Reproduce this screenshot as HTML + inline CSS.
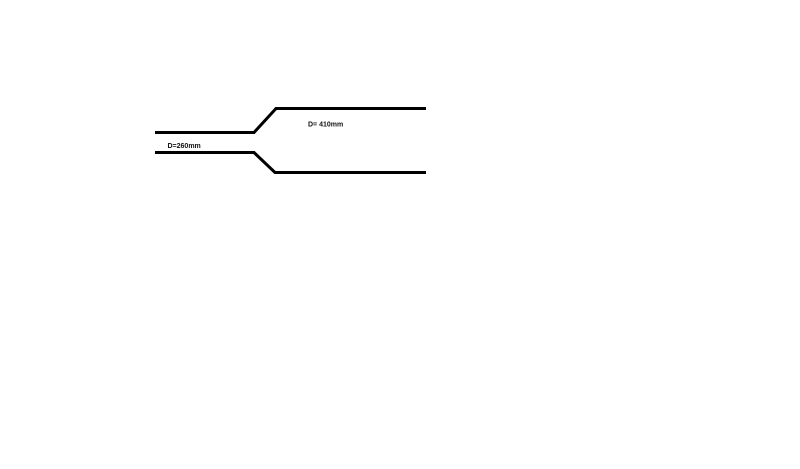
<!DOCTYPE html>
<html>
<head>
<meta charset="utf-8">
<style>
html,body{margin:0;padding:0;background:#fff;width:800px;height:469px;overflow:hidden}
svg{display:block}
text{font-family:"Liberation Sans",sans-serif;font-size:7px;font-weight:bold;fill:#111}
</style>
</head>
<body>
<svg width="800" height="469" viewBox="0 0 800 469" xmlns="http://www.w3.org/2000/svg">
<rect width="800" height="469" fill="#fff"/>
<polyline points="155,132.5 254,132.5 276,108.5 426,108.5" fill="none" stroke="#000" stroke-width="3"/>
<polyline points="155,152.5 254,152.5 275,172.5 426,172.5" fill="none" stroke="#000" stroke-width="3"/>
<text x="167.5" y="148">D=260mm</text>
<text x="308" y="126.500">D= 410mm</text>
</svg>
</body>
</html>
